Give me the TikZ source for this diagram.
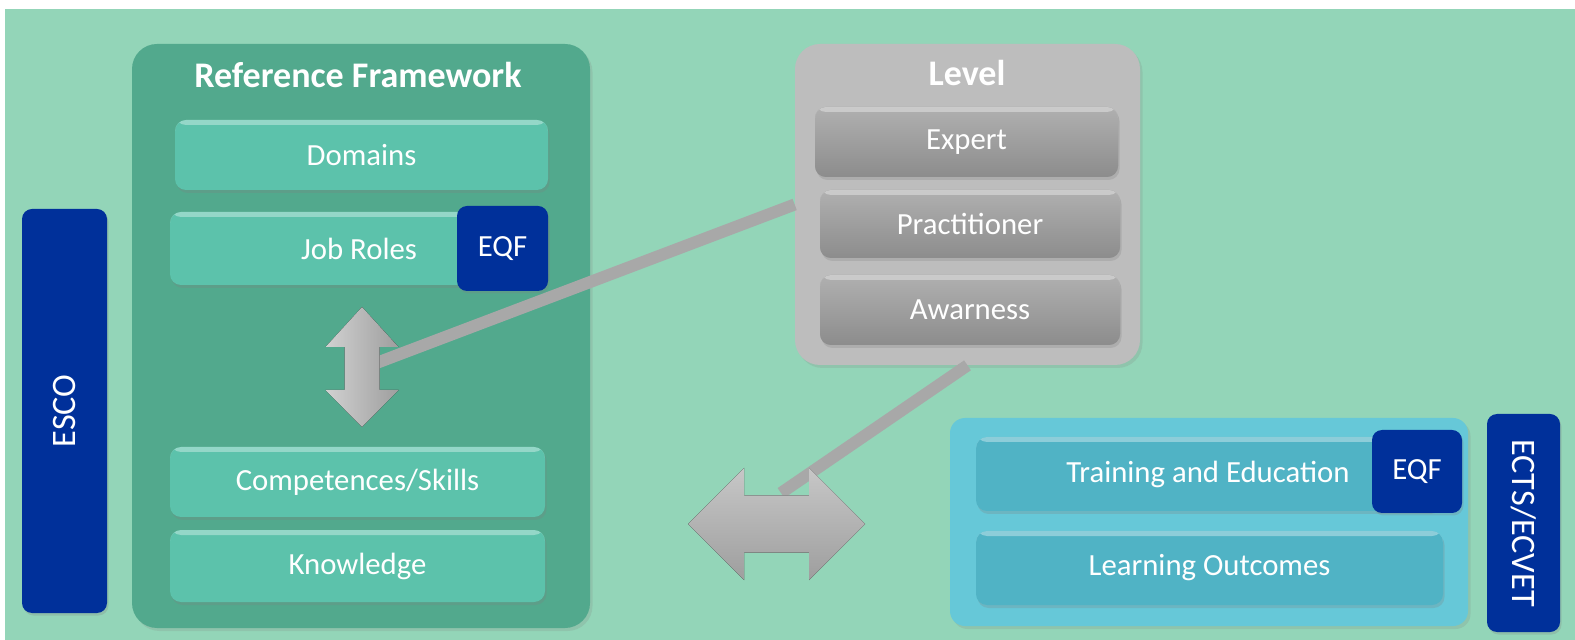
\documentclass[tikz,border=0pt]{standalone}
\usepackage{fontspec}
\setmainfont{Carlito}
\usetikzlibrary{shadows}
\definecolor{bgGreen}{HTML}{93D5B8}
\definecolor{frameGreen}{HTML}{52A98D}
\definecolor{barTeal}{HTML}{5CC2AB}
\definecolor{darkBlue}{HTML}{00309A}
\definecolor{levelGrey}{HTML}{BDBDBD}
\definecolor{barGrey}{HTML}{9C9C9C}
\definecolor{linkGrey}{HTML}{A8A8A8}
\definecolor{eduCyan}{HTML}{66C8D8}
\definecolor{barCyan}{HTML}{50B3C5}
\begin{document}
\begin{tikzpicture}[
    every node/.style={text=white, inner sep=0pt},
    panel/.style={rounded corners=0.5cm, fill=#1,
      drop shadow={opacity=0.2, shadow xshift=0.05cm, shadow yshift=-0.06cm}},
    bar/.style={rounded corners=0.22cm, fill=#1, font=\fontsize{17.5}{20}\selectfont,
      drop shadow={opacity=0.25, shadow xshift=0.03cm, shadow yshift=-0.06cm},
      path picture={\fill[white, opacity=0.35]
        ([yshift=-0.1cm]path picture bounding box.north west) rectangle
        (path picture bounding box.north east);}},
    greybar/.style={bar=barGrey, top color=barGrey!80!white, bottom color=barGrey!90!black},
    eqfbox/.style={rounded corners=0.2cm, fill=darkBlue, font=\fontsize{17.5}{20}\selectfont,
      drop shadow={opacity=0.25, shadow xshift=0.03cm, shadow yshift=-0.05cm}},
    sidebox/.style={eqfbox, font=\fontsize{19.5}{22}\selectfont},
    heading/.style={font=\bfseries\fontsize{20.5}{24}\selectfont},
    link/.style={draw=linkGrey, line width=0.24cm},
    fatarrow/.style={left color=black!18, right color=black!38},
    flatarrow/.style={top color=black!22, bottom color=black!38}
  ]
  \useasboundingbox (0,0) rectangle (31.5,-12.8);
  \fill[bgGreen] (0.1,-0.18) rectangle (31.5,-12.8);

  \node[sidebox, rotate=90, minimum width=8.08cm, minimum height=1.70cm] (esco) at (1.29,-8.22) {ESCO};

  \node[panel=frameGreen, minimum width=9.16cm, minimum height=11.68cm] (refFrame) at (7.22,-6.72) {};
  \node[heading] (refTitle) at (7.16,-1.5) {Reference Framework};
  \node[bar=barTeal, minimum width=7.46cm, minimum height=1.40cm] (domains) at (7.23,-3.10) {Domains};
  \node[bar=barTeal, minimum width=7.56cm, minimum height=1.46cm] (jobRoles) at (7.18,-4.97) {Job Roles};
  \node[eqfbox, minimum width=1.82cm, minimum height=1.70cm] (eqfJob) at (10.05,-4.97) {EQF};
  \node[bar=barTeal, minimum width=7.50cm, minimum height=1.40cm] (skills) at (7.15,-9.64) {Competences/Skills};
  \node[bar=barTeal, minimum width=7.50cm, minimum height=1.44cm] (knowledge) at (7.15,-11.32) {Knowledge};

  \node[panel=levelGrey, minimum width=6.90cm, minimum height=6.42cm] (level) at (19.35,-4.09) {};
  \node[heading] (levelTitle) at (19.34,-1.46) {Level};
  \node[greybar, minimum width=6.06cm, minimum height=1.40cm] (expert) at (19.33,-2.84) {Expert};
  \node[greybar, minimum width=6.00cm, minimum height=1.36cm] (practitioner) at (19.40,-4.48) {Practitioner};
  \node[greybar, minimum width=6.00cm, minimum height=1.40cm] (awareness) at (19.40,-6.20) {Awarness};

  \node[panel=eduCyan, rounded corners=0.3cm, minimum width=10.36cm, minimum height=4.16cm] (eduFrame) at (24.18,-10.44) {};
  \node[bar=barCyan, minimum width=9.28cm, minimum height=1.48cm] (training) at (24.16,-9.48) {Training and Education};
  \node[eqfbox, minimum width=1.80cm, minimum height=1.66cm] (eqfEdu) at (28.34,-9.43) {EQF};
  \node[bar=barCyan, minimum width=9.34cm, minimum height=1.48cm] (outcomes) at (24.19,-11.36) {Learning Outcomes};
  \node[sidebox, rotate=-90, minimum width=4.36cm, minimum height=1.46cm] (ects) at (30.47,-10.46) {ECTS/ECVET};

  \coordinate (vArrow) at (7.24,-7.37);
  \coordinate (hArrowTop) at (15.62,-9.86);
  \draw[link] (level.west) -- (vArrow);
  \draw[link] (level.south) -- (hArrowTop);

  \fill[fatarrow] (7.24,-6.14) -- (7.97,-6.94) -- (7.59,-6.94) -- (7.59,-7.80) -- (7.97,-7.80)
    -- (7.24,-8.54) -- (6.51,-7.80) -- (6.89,-7.80) -- (6.89,-6.94) -- (6.51,-6.94) -- cycle;
  \fill[flatarrow] (13.76,-10.48) -- (14.88,-9.36) -- (14.88,-9.91) -- (16.18,-9.91) -- (16.18,-9.36)
    -- (17.30,-10.48) -- (16.18,-11.60) -- (16.18,-11.05) -- (14.88,-11.05) -- (14.88,-11.60) -- cycle;
\end{tikzpicture}
\end{document}
